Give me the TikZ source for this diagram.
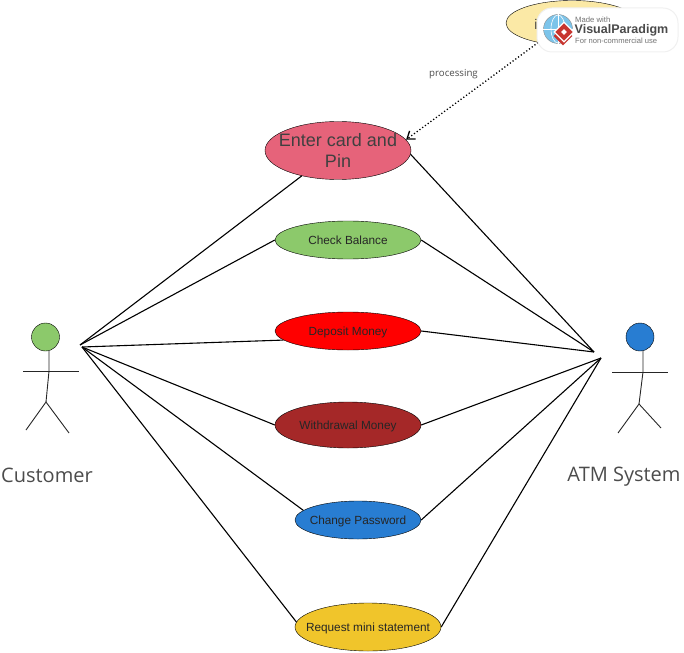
\documentclass[tikz,border=0pt]{standalone}
\usepackage{fontspec}
\setmainfont{Liberation Sans}
\newfontfamily\labelfont{Open Sans}
\usetikzlibrary{shapes.geometric,arrows.meta}
\definecolor{vpgray}{HTML}{4A4A4A}
\definecolor{vpred}{HTML}{C8352F}
\definecolor{vpblue}{HTML}{7CC4EA}
\definecolor{infofill}{HTML}{FBE9A6}
\newcommand{\ucname}[1]{\raisebox{-4pt}[0pt][0pt]{\makebox[0pt]{#1}}}
\tikzset{
  usecase/.style={draw, ellipse, inner sep=0pt, minimum width=146pt, minimum height=38pt, font=\fontsize{11.8}{13}\selectfont, text=black!85},
  actorhead/.style={draw, circle, inner sep=0pt, minimum size=28pt},
  actorname/.style={font=\labelfont\fontsize{20}{22}\selectfont, text=black!70},
  link/.style={line width=1.1pt},
  limb/.style={line width=0.9pt, black!85}
}
\begin{document}
\begin{tikzpicture}[x=1pt,y=-1pt]
    \useasboundingbox (0,0) rectangle (684,652);

    % use cases
    \node[usecase, fill=infofill, minimum width=132pt, minimum height=45pt] (info) at (572,23) {};
    \node[inner sep=0pt, font=\fontsize{14}{16}\selectfont, text=black!75] (infoname) at (536,24) {i};
    \node[usecase, fill={rgb,255:red,230;green,99;blue,122}, minimum height=58pt, align=center, font=\fontsize{18}{21}\selectfont, text=black!75] (enter) at (338,150.5) {\makebox[0pt]{Enter card and}\\\makebox[0pt]{Pin}};
    \node[usecase, fill={rgb,255:red,140;green,201;blue,107}] (balance) at (348,240) {\ucname{Check Balance}};
    \node[usecase, fill=red] (deposit) at (348,331) {\ucname{Deposit Money}};
    \node[usecase, fill={rgb,255:red,165;green,40;blue,40}, minimum height=46pt] (withdraw) at (348,425) {\ucname{Withdrawal Money}};
    \node[usecase, fill={rgb,255:red,40;green,125;blue,210}, minimum width=126pt] (password) at (358,520) {\ucname{Change Password}};
    \node[usecase, fill={rgb,255:red,240;green,197;blue,43}, minimum height=48pt] (statement) at (368,627) {\ucname{Request mini statement}};

    % customer
    \node[actorhead, fill={rgb,255:red,140;green,201;blue,107}] (custhead) at (45.5,337) {};
    \coordinate (custneck) at (49,371);
    \coordinate (custhip) at (46,402);
    \coordinate (custarml) at (23,371);
    \coordinate (custarmr) at (79,371);
    \coordinate (custlegl) at (26,430);
    \coordinate (custlegr) at (69,433);
    \draw[limb] (custhead.south -| custneck) -- (custneck) -- (custhip);
    \draw[limb] (custarml) -- (custarmr);
    \draw[limb] (custlegl) -- (custhip) -- (custlegr);
    \node[actorname] (custname) at (47,475) {Customer};

    % atm system
    \node[actorhead, fill={rgb,255:red,40;green,125;blue,210}] (atmhead) at (640,337) {};
    \coordinate (atmneck) at (643,372);
    \coordinate (atmhip) at (639,404);
    \coordinate (atmarml) at (612,372);
    \coordinate (atmarmr) at (668,372);
    \coordinate (atmlegl) at (618,433);
    \coordinate (atmlegr) at (661,428);
    \draw[limb] (atmhead.south -| atmneck) -- (atmneck) -- (atmhip);
    \draw[limb] (atmarml) -- (atmarmr);
    \draw[limb] (atmlegl) -- (atmhip) -- (atmlegr);
    \node[actorname] (atmname) at (624,477) {ATM System};

    % connectors
    \coordinate (custa) at (80,345);
    \coordinate (custb) at (82,347);
    \coordinate (atma) at (594,352);
    \coordinate (atmb) at (601,358);
    \draw[link] (custa) -- (enter.215);
    \draw[link] (custa) -- (balance.west);
    \draw[link] (custb) -- (deposit.188);
    \draw[link] (custb) -- (withdraw.west);
    \draw[link] (custb) -- (password.170);
    \draw[link] (custb) -- (statement.176);
    \draw[link] (atma) -- (enter.357);
    \draw[link] (atma) -- (balance.east);
    \draw[link] (atma) -- (deposit.east);
    \draw[link] (atmb) -- (withdraw.east);
    \draw[link] (atmb) -- (password.east);
    \draw[link] (atmb) -- (statement.east);
    \draw[line width=1.3pt, dash pattern=on 1.2pt off 2.2pt, -{Straight Barb[length=7pt,width=10pt]}] (info.210) -- (enter.9);
    \node[font=\labelfont\fontsize{9.7}{11}\selectfont, text=black!70] (proc) at (453.5,74) {processing};

    % watermark
    \node[draw=black!6, line width=1pt, fill=white, rounded corners=15pt, minimum width=141pt, minimum height=44pt, inner sep=0pt] (mark) at (607.5,30) {};
    \node[circle, draw=black!45, fill=vpblue, inner sep=0pt, minimum size=29pt] (globe) at (558,29) {};
    \draw[white, line width=0.7pt] (globe.north) -- (globe.south) (globe.west) -- (globe.east);
    \draw[white, line width=0.6pt] (globe.center) ellipse (7pt and 14pt);
    \node[diamond, fill=vpred, inner sep=0pt, minimum size=19pt] (logoa) at (563,36) {};
    \node[diamond, fill=vpred, draw=white, line width=1.2pt, inner sep=0pt, minimum size=20pt] (logob) at (564,32) {};
    \node[diamond, fill=white, inner sep=0pt, minimum size=6pt] (logoc) at (564,32) {};
    \node[anchor=west, inner sep=0pt, text=black!55, font=\fontsize{7.7}{9}\selectfont] (made) at (575,19.5) {Made with};
    \node[anchor=west, inner sep=0pt, text=vpgray, font=\bfseries\fontsize{12.5}{15}\selectfont] (vp) at (574.5,30) {VisualParadigm};
    \node[anchor=west, inner sep=0pt, text=black!55, font=\fontsize{7.6}{9}\selectfont] (noncom) at (575,40.5) {For non-commercial use};
\end{tikzpicture}
\end{document}
